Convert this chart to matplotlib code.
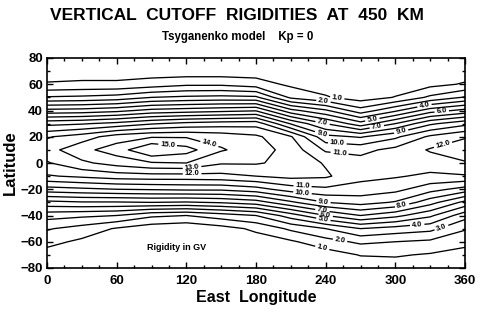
import numpy as np
import matplotlib
matplotlib.use("Agg")
import matplotlib.pyplot as plt
from matplotlib.ticker import MultipleLocator

plt.rcParams['font.family'] = ['Liberation Sans', 'DejaVu Sans']

# Grid: longitude columns, latitude rows (south -> north)
longitudes = [0, 30, 60, 90, 120, 150, 180, 210, 240, 270, 300, 330, 360]
latitudes = [-80, -70, -60, -50, -40, -30, -20, -10, 0, 10, 20, 30, 40, 50, 60, 70, 80]

# Rigidity (GV) profiles along latitude for each longitude column
r_lon000 = [0.2, 0.6, 1.3, 2.1, 3.4, 5.7, 8.6, 10.9, 11.9, 12.6, 11.9, 9.7, 6.3, 3.1, 1.1, 0.5, 0.2]
r_lon030 = [0.2, 0.4, 0.8, 1.6, 3.2, 5.9, 8.8, 11.2, 12.8, 13.7, 12.5, 9.9, 6.4, 3.2, 1.2, 0.5, 0.2]
r_lon060 = [0.2, 0.3, 0.5, 0.9, 3.0, 5.9, 9.0, 11.5, 13.4, 14.5, 13.5, 10.3, 6.7, 3.4, 1.2, 0.5, 0.2]
r_lon090 = [0.1, 0.2, 0.3, 0.4, 2.2, 6.0, 9.1, 11.6, 13.9, 16.0, 13.9, 10.9, 7.3, 4.0, 1.45, 0.5, 0.1]
r_lon120 = [0.1, 0.1, 0.15, 0.2, 2.0, 5.9, 9.2, 11.6, 14.0, 15.4, 13.9, 11.3, 7.5, 4.2, 1.8, 0.4, 0.1]
r_lon150 = [0.1, 0.2, 0.3, 0.6, 2.5, 6.1, 9.2, 11.7, 13.1, 14.1, 13.6, 11.5, 7.7, 4.3, 1.8, 0.4, 0.1]
r_lon180 = [0.1, 0.3, 0.5, 1.2, 3.0, 6.5, 9.6, 12.0, 13.1, 13.5, 13.2, 11.6, 7.9, 4.2, 1.45, 0.5, 0.1]
r_lon210 = [0.1, 0.4, 0.85, 2.2, 4.5, 7.8, 10.5, 12.3, 12.7, 12.6, 12.1, 8.9, 5.3, 1.8, 0.8, 0.3, 0.1]
r_lon240 = [0.2, 0.5, 1.6, 3.0, 6.0, 9.0, 10.8, 12.15, 11.9, 10.85, 9.3, 7.0, 4.15, 1.1, 0.5, 0.2, 0.1]
r_lon270 = [0.4, 1.05, 2.2, 4.0, 7.0, 9.4, 10.6, 11.3, 11.4, 10.7, 8.9, 5.4, 2.4, 0.5, 0.3, 0.2, 0.1]
r_lon300 = [0.5, 1.1, 2.0, 3.6, 6.3, 8.9, 10.3, 11.1, 11.4, 11.3, 9.8, 7.0, 3.8, 1.05, 0.45, 0.3, 0.2]
r_lon330 = [0.4, 0.9, 1.8, 3.3, 5.2, 7.4, 9.4, 10.8, 11.5, 12.1, 11.2, 8.8, 5.5, 2.2, 0.7, 0.4, 0.2]
r_lon360 = [0.2, 0.6, 1.3, 2.1, 3.4, 5.7, 8.6, 10.9, 11.9, 12.6, 11.9, 9.7, 6.3, 3.1, 1.1, 0.5, 0.2]

levels = [1, 2, 3, 4, 5, 6, 7, 8, 9, 10, 11, 12, 13, 14, 15]

x_ticks = [0, 60, 120, 180, 240, 300, 360]
y_ticks = [-80, -60, -40, -20, 0, 20, 40, 60, 80]

title = "VERTICAL  CUTOFF  RIGIDITIES  AT  450  KM"
subtitle = "Tsyganenko model    Kp = 0"
note = "Rigidity in GV"

# contour label positions (lon, lat)
label_spots = [(104, 15), (140, 15), (125, -4), (125, -8.5),
               (250, 50), (238, 46), (237, 29), (237, 23), (250, 14), (252, 8),
               (280, 34), (284, 28), (305, 24), (325, 44), (340, 39), (341, 14),
               (220, -19), (220, -23), (238, -30), (237, -37), (240, -40), (238, -43),
               (252, -61), (237, -65), (306, -33), (319, -49), (340, -50)]

Z = np.column_stack([r_lon000, r_lon030, r_lon060, r_lon090, r_lon120, r_lon150,
                     r_lon180, r_lon210, r_lon240, r_lon270, r_lon300, r_lon330, r_lon360])

fig = plt.figure(figsize=(4.87, 3.12), dpi=100)
ax = fig.add_axes([47/487, 1-268/312, (465-47)/487, (268-58)/312])

cs = ax.contour(longitudes, latitudes, Z, levels=levels, colors='black', linewidths=0.95)
labels = ax.clabel(cs, fmt='%.1f', fontsize=5.5, inline=True, inline_spacing=2,
                   manual=label_spots)
for t in labels:
    t.set_fontweight('bold')

ax.set_xlim(0, 360)
ax.set_ylim(-80, 80)
ax.set_xticks(x_ticks)
ax.set_yticks(y_ticks)
ax.xaxis.set_minor_locator(MultipleLocator(15))
ax.yaxis.set_minor_locator(MultipleLocator(10))
ax.tick_params(which='both', direction='in', top=True, right=True, width=1.0)
ax.tick_params(which='major', length=4.5, labelsize=9.5)
ax.tick_params(axis='x', which='major', pad=5)
ax.tick_params(axis='y', which='major', pad=3)
ax.tick_params(which='minor', length=2.5)
for lab in ax.get_xticklabels() + ax.get_yticklabels():
    lab.set_fontweight('bold')
for s in ax.spines.values():
    s.set_linewidth(1.2)

ax.set_xlabel("East  Longitude", fontsize=11.5, fontweight='bold', labelpad=2)
ax.set_ylabel("Latitude", fontsize=12, fontweight='bold', labelpad=2)

ax.text(112, -64, note, fontsize=6.5, fontweight='bold', ha='center', va='center')

fig.text(237/487, 1-15/312, title, fontsize=12.5, fontweight='bold', ha='center', va='center')
fig.text(238/487, 1-37/312, subtitle, fontsize=8.3, fontweight='bold', ha='center', va='center')

fig.savefig("out.png", dpi=100)
